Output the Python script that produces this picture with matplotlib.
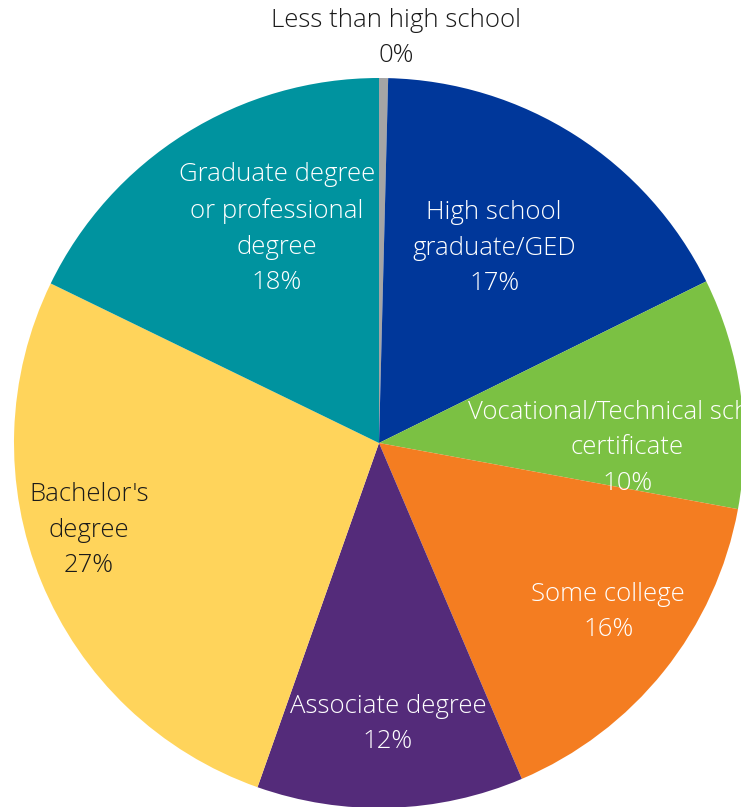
import matplotlib.pyplot as plt
import numpy as np

# Educational attainment shares (percent)
categories = ["Less than high school", "High school\ngraduate/GED",
              "Vocational/Technical school\ncertificate", "Some college",
              "Associate degree", "Bachelor's\ndegree",
              "Graduate degree\nor professional\ndegree"]
shares = [0.4, 17.3, 10.2, 15.7, 11.8, 26.8, 17.8]
colors = ["#a5a5a5", "#00379a", "#7bc143", "#f47d21", "#542b7a", "#ffd45b", "#00939f"]
text_colors = ["#1a1a1a", "white", "white", "white", "white", "#1a1a1a", "white"]

# label placement: distance from centre, clockwise nudge from wedge middle (deg)
label_dist = [1.11, 0.62, 0.68, 0.78, 0.77, 0.83, 0.65]
label_nudge = [1.7, -2.0, 9.0, -2.3, 0.0, 5.6, 6.6]

plt.rcParams['font.family'] = ['Open Sans', 'DejaVu Sans']

fig = plt.figure(figsize=(7.41, 8.07), dpi=100)
ax = fig.add_axes([0, 0, 1, 1])

wedges, _ = ax.pie(shares, colors=colors, startangle=90, counterclock=False,
                   radius=1.0, wedgeprops=dict(linewidth=0))

for w, name, val, tc, d, nudge in zip(wedges, categories, shares, text_colors,
                                      label_dist, label_nudge):
    mid = np.deg2rad((w.theta1 + w.theta2) / 2 - nudge)
    ax.text(d * np.cos(mid), d * np.sin(mid), f"{name}\n{val:.0f}%",
            ha="center", va="center", color=tc, fontsize=18.5,
            fontweight="light", linespacing=1.55)

# centre at (379, 443) px with a 365 px radius
ax.set_xlim(-379 / 365, (741 - 379) / 365)
ax.set_ylim(-(807 - 443) / 365, 443 / 365)
ax.set_aspect("auto")
ax.axis("off")

fig.savefig("out.png", dpi=100)
